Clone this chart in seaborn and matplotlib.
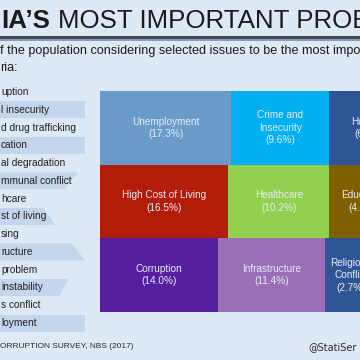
"""
Nigeria's most important problems - cropped infographic remake.
Treemap of issue shares plus the side list of issues.
"""

import matplotlib
matplotlib.use("Agg")
import numpy as np
import matplotlib.pyplot as plt
import seaborn as sns
from matplotlib.patches import Polygon, Rectangle

sns.set_theme(style="white")
plt.rcParams["font.family"] = ["Liberation Sans", "DejaVu Sans"]

# ── Data (as visible in the crop) ────────────────────────────────────────────
TITLE_BOLD = "IA’S"
TITLE_REST = "MOST IMPORTANT PROB"
SUBTITLE = ["f the population considering selected issues to be the most impo",
            "ria:"]

issue_list = ["uption", "l insecurity", "d drug trafficking", "cation",
              "al degradation", "mmunal conflict", "hcare", "st of living",
              "sing", "ructure", "problem", "instability", "s conflict",
              "loyment"]

row1_names = ["Unemployment", "Crime and\nInsecurity", "Housing"]
row1_share = [17.3, 9.6, 6.3]
row2_names = ["High Cost of Living", "Healthcare", "Education"]
row2_share = [16.5, 10.2, 4.7]
row3_names = ["Corruption", "Infrastructure", "Religious\nConflict"]
row3_share = [14.0, 11.4, 2.7]

SOURCE = "ORRUPTION SURVEY, NBS (2017)"
HANDLE = "@StatiSer"

# ── Styles ───────────────────────────────────────────────────────────────────
BG = "#dde9f5"
BAND = "#c4d6ec"
row_colors = [["#6a9bc9", "#00b0f0", "#2f5597"],
              ["#b41c0a", "#92d050", "#7f6000"],
              ["#561fa0", "#9a6fb8", "#2f5597"]]
TILE_TXT = "#e6edf6"

W = H = 360
fig = plt.figure(figsize=(3.6, 3.6), dpi=100)
fig.patch.set_facecolor(BG)

# pixel-space canvas for the decorations and text
bg = fig.add_axes([0, 0, 1, 1])
bg.set_xlim(0, W)
bg.set_ylim(H, 0)
bg.axis("off")

# title
t1 = bg.text(1, 28, TITLE_BOLD, fontsize=18.6, fontweight="bold",
             color="#1b1b1b", va="baseline", ha="left")
fig.canvas.draw()
x_end = bg.transData.inverted().transform(t1.get_window_extent().get_points())[1, 0]
bg.text(x_end + 8, 28, TITLE_REST, fontsize=18.6, color="#1b1b1b",
        va="baseline", ha="left")
bg.add_patch(Rectangle((0, 36), W, 3, color="#3c4a5b", lw=0))
bg.add_patch(Rectangle((0, 39), W, 2, color="#8d9cae", lw=0))

for i, line in enumerate(SUBTITLE):
    bg.text(0, 51 + i * 17, line, fontsize=9.1, color="#1b1b1b",
            va="center", ha="left")

# side list with alternating bands
band_shape = {1: (85, 85), 3: (85, 85), 5: (78, 64), 7: (43, 55),
              9: (72, 85), 11: (68, 60), 13: (85, 85)}
row_y = 92 + np.arange(len(issue_list)) * 17.77
for i, (label, y) in enumerate(zip(issue_list, row_y)):
    if i in band_shape:
        top_end, bot_end = band_shape[i]
        bg.add_patch(Polygon([(0, y - 8.5), (top_end, y - 8.5),
                              (bot_end, y + 8.5), (0, y + 8.5)],
                             closed=True, color=BAND, lw=0))
    bg.text(1, y, label, fontsize=7.3, color="#222222", va="center", ha="left")

# footer
bg.text(0, 347, SOURCE, fontsize=6, color="#2a2a2a", va="center", ha="left")
bg.text(308, 347, HANDLE, fontsize=7, color="#2a2a2a", va="center", ha="left",
        family=["DejaVu Sans"])

# ── Treemap-style tiles (width ~ sqrt of share) ─────────────────────────────
ax = fig.add_axes([100 / W, 1 - 312 / H, 260 / W, (312 - 91) / H])
rows = [(row1_names, row1_share), (row2_names, row2_share),
        (row3_names, row3_share)]
for r, (names, shares) in enumerate(rows):
    widths = np.sqrt(shares)
    lefts = np.concatenate([[0], np.cumsum(widths)[:-1]])
    ax.barh(r, widths, left=lefts, height=1, color=row_colors[r],
            edgecolor="none")
    for name, s, l, w in zip(names, shares, lefts, widths):
        ax.text(l + w / 2, r, f"{name}\n({s:.1f}%)", ha="center", va="center",
                fontsize=7.2, color=TILE_TXT, linespacing=1.3, clip_on=True)
ax.set_xlim(0, 260 / 31.6)
ax.set_ylim(2.5, -0.5)
ax.axis("off")

fig.savefig("out.png", dpi=100, facecolor=BG)
